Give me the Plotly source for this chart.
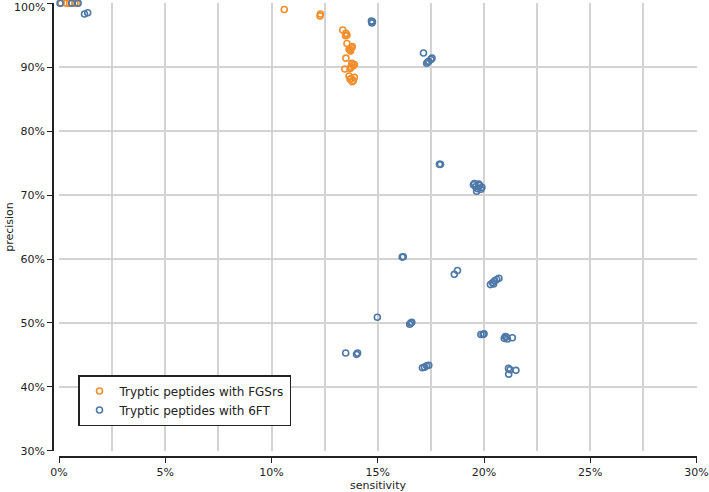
import plotly.graph_objects as go

# sensitivity (%) and precision (%)
fgsrs_sens = [0.1, 0.35, 0.5, 0.75, 0.85, 10.6, 12.28, 12.3, 13.35, 13.5, 13.55, 13.48, 13.55,
              13.7, 13.75, 13.8, 13.72, 13.65, 13.5, 13.45,
              13.75, 13.8, 13.9, 13.7, 13.85, 13.78,
              13.65, 13.75, 13.85, 13.8, 13.7, 13.9]
fgsrs_prec = [100, 100, 100, 100, 100, 99.0, 98.0, 98.3, 95.8, 95.3, 95.0, 94.9, 93.7,
              92.7, 93.0, 93.2, 92.5, 92.8, 91.4, 89.7,
              90.0, 90.5, 90.4, 89.8, 90.2, 90.6,
              88.6, 88.2, 87.9, 87.7, 88.1, 88.4]

sixft_sens = [0.05, 0.6, 0.9, 1.2, 1.35, 14.7, 14.72, 14.75, 17.15,
              17.3, 17.4, 17.5, 17.55, 17.35, 17.9, 17.95,
              19.5, 19.6, 19.7, 19.8, 19.9, 19.65, 19.75, 19.55, 19.85,
              16.15, 16.2, 18.6, 18.75,
              20.3, 20.4, 20.5, 20.6, 20.7, 20.45,
              14.98, 16.5, 16.55, 16.6, 13.49, 14.0, 14.05,
              17.1, 17.2, 17.3, 17.4, 19.85, 19.95, 20.0,
              20.95, 21.05, 21.1, 21.0, 21.33,
              21.15, 21.23, 21.5, 21.16]
sixft_prec = [100, 100, 100, 98.3, 98.5, 97.2, 96.9, 97.1, 92.2,
              90.6, 90.9, 91.2, 91.4, 90.8, 74.8, 74.8,
              71.6, 71.3, 71.0, 71.5, 71.2, 70.6, 71.7, 71.8, 70.9,
              60.3, 60.35, 57.6, 58.2,
              56.0, 56.3, 56.6, 56.8, 57.0, 56.1,
              50.9, 49.8, 50.0, 50.1, 45.3, 45.1, 45.3,
              43.0, 43.1, 43.3, 43.4, 48.2, 48.2, 48.3,
              47.6, 47.8, 47.5, 47.9, 47.7,
              42.9, 42.7, 42.6, 42.0]

# point below the visible range (clipped at the corner)
clipped_sens = [0.15]
clipped_prec = [29.8]

x_ticks = [0, 5, 10, 15, 20, 25, 30]
y_ticks = [30, 40, 50, 60, 70, 80, 90, 100]

ORANGE = "#f28e2b"
BLUE = "#4e79a7"

def frac(v):
    return [a / 100 for a in v]

fig = go.Figure()
fig.add_trace(go.Scatter(
    x=frac(fgsrs_sens), y=frac(fgsrs_prec), mode="markers",
    name="Tryptic peptides with FGSrs", cliponaxis=False,
    marker=dict(symbol="circle-open", size=6, color=ORANGE, line=dict(width=1.6, color=ORANGE)),
))
fig.add_trace(go.Scatter(
    x=frac(sixft_sens), y=frac(sixft_prec), mode="markers",
    name="Tryptic peptides with 6FT", cliponaxis=False,
    marker=dict(symbol="circle-open", size=6, color=BLUE, line=dict(width=1.6, color=BLUE)),
))
fig.add_trace(go.Scatter(
    x=frac(clipped_sens), y=frac(clipped_prec), mode="markers",
    showlegend=False, cliponaxis=True, hoverinfo="skip",
    marker=dict(symbol="circle-open", size=6, color=BLUE, line=dict(width=1.4, color=BLUE)),
))

L, R, T, B = 53, 12, 3, 35
W, H = 709, 492
pw = W - L - R
ph = H - T - B

y_labels = [f"{v}%" if v != 100 else "" for v in y_ticks]

fig.update_layout(
    width=W, height=H,
    margin=dict(l=L, r=R, t=T, b=B, pad=0),
    paper_bgcolor="white", plot_bgcolor="white",
    font=dict(family="DejaVu Sans", size=11, color="#222"),
    showlegend=True,
    legend=dict(
        x=(78 - L) / pw, y=(H - B - 375) / ph, xanchor="left", yanchor="top",
        bordercolor="#222", borderwidth=1.5, bgcolor="white",
        font=dict(size=12, color="#222"),
        tracegroupgap=0, itemsizing="trace", itemwidth=30,
    ),
    xaxis=dict(
        domain=[6 / pw, 1], anchor="free", position=0,
        range=[0, 0.3002], tickvals=[v / 100 for v in x_ticks],
        ticktext=[f"{v}%" for v in x_ticks],
        showgrid=True, gridcolor="#d3d3d3", gridwidth=1.5,
        minor=dict(dtick=0.025, tick0=0, showgrid=True, gridcolor="#d3d3d3", gridwidth=1.5),
        showline=True, linecolor="#222", linewidth=1.6,
        ticks="outside", ticklen=5, tickwidth=1.4, tickcolor="#222",
        zeroline=False, automargin=False,
        title=dict(text="sensitivity", standoff=4, font=dict(size=11)),
    ),
    yaxis=dict(
        domain=[6 / ph, 1], anchor="free", position=0,
        range=[0.2999, 1.0002], tickvals=[v / 100 for v in y_ticks],
        ticktext=y_labels,
        showgrid=True, gridcolor="#d3d3d3", gridwidth=1.5,
        showline=True, linecolor="#222", linewidth=1.6,
        ticks="outside", ticklen=5, tickwidth=1.4, tickcolor="#222",
        zeroline=False, automargin=False,
        title=dict(text="precision", standoff=4, font=dict(size=11)),
    ),
)

# top tick label (plotly hides a label that overflows the page edge)
fig.add_annotation(
    text=f"{y_ticks[-1]}%", xref="paper", yref="y", x=0, y=y_ticks[-1] / 100,
    xanchor="right", yanchor="middle", xshift=-6, yshift=-4, showarrow=False,
    font=dict(family="DejaVu Sans", size=11, color="#222"),
)

fig.write_html("out.html", post_script="document.body.style.margin='0px';",
               config={"displayModeBar": False})
